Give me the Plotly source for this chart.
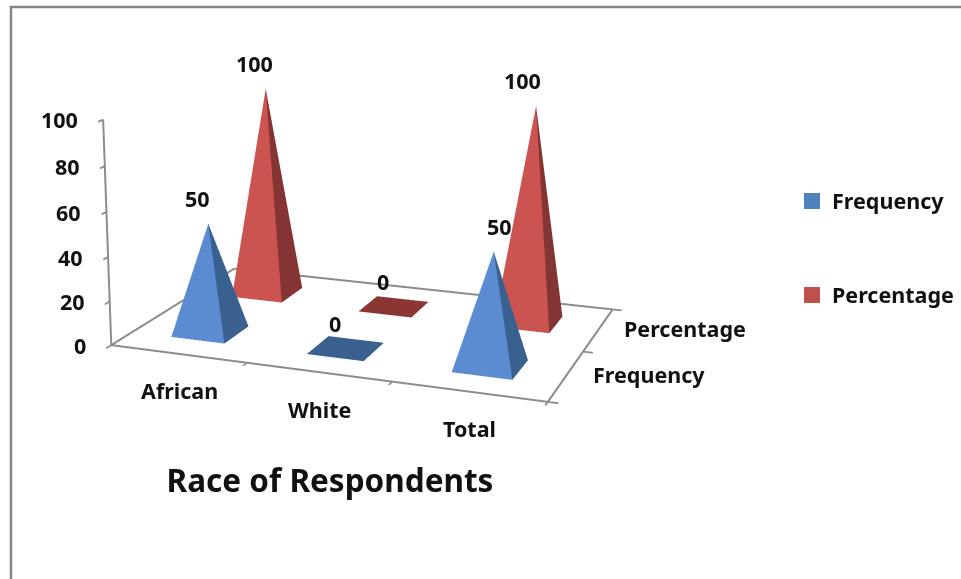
import plotly.graph_objects as go

categories = ["African", "White", "Total"]
series_names = ["Frequency", "Percentage"]
frequency = [50, 0, 50]
percentage = [100, 0, 100]
z_ticks = [0, 20, 40, 60, 80, 100]
legend_colors = ["#4F81BD", "#C0504D"]
front_colors = ["#5B8BD0", "#CB5350"]
side_colors = ["#3A6090", "#843432"]
flat_colors = ["#3A6090", "#8C3634"]
half = 0.2
FONT = "Noto Sans"
TEXT = "#111111"
AXIS = "#8C8C8C"

# The reference has a long lens with its principal point off-centre, so the
# figure is larger than the window and the page is offset to put that point
# where it belongs.
FIG_W, FIG_H = 1296, 1314
OFF_X, OFF_Y = 331, 401
def px(x): return (x + OFF_X) / FIG_W
def py(y): return 1 - (y + OFF_Y) / FIG_H


def pyramid_mesh(values, s_idx):
    xs, ys, zs, i, j, k, fc = [], [], [], [], [], [], []
    sc = s_idx + 0.5
    for c_idx, v in enumerate(values):
        cc = c_idx + 0.5
        n = len(xs)
        xs += [cc-half, cc+half, cc+half, cc-half, cc]
        ys += [sc-half, sc-half, sc+half, sc+half, sc]
        zs += [0, 0, 0, 0, v]
        faces = [(0,1,4,front_colors[s_idx]), (1,2,4,side_colors[s_idx]),
                 (2,3,4,side_colors[s_idx]), (3,0,4,front_colors[s_idx])]
        for a,b,cv,col in faces:
            i.append(n+a); j.append(n+b); k.append(n+cv)
            fc.append(col if v else flat_colors[s_idx])
    return go.Mesh3d(x=xs,y=ys,z=zs,i=i,j=j,k=k,facecolor=fc,flatshading=True,
        lighting=dict(ambient=1,diffuse=0,specular=0,fresnel=0,roughness=1),
        name=series_names[s_idx],showlegend=False,hoverinfo="skip",showscale=False)

nx, ny = len(categories), len(series_names)
fig = go.Figure()
fig.add_trace(pyramid_mesh(frequency,0))
fig.add_trace(pyramid_mesh(percentage,1))
fig.add_trace(go.Scatter3d(x=[0,nx,nx,0,0],y=[0,0,ny,ny,0],z=[0,0,0,0,0],mode="lines",
    line=dict(color=AXIS,width=4),showlegend=False,hoverinfo="skip"))
for s_idx,nm in enumerate(series_names):
    fig.add_trace(go.Scatter3d(x=[None],y=[None],z=[None],mode="markers",name=nm,legendgroup=nm,
        marker=dict(symbol="square",size=16,color=legend_colors[s_idx]),hoverinfo="skip"))

ann=[]
label_dx = {(0,2): 6, (1,2): -14}
def A(x,y,z,t,xs=0,ys=0,anchor="center",size=21.5):
    ann.append(dict(x=x,y=y,z=z,text=t,showarrow=False,xshift=xs,yshift=ys,xanchor=anchor,
        font=dict(family=FONT,size=size,color=TEXT,weight=700)))
for s_idx,vals in enumerate([frequency,percentage]):
    for c_idx,v in enumerate(vals):
        A(c_idx+.5,s_idx+.5,v,str(v),label_dx.get((s_idx,c_idx),-11),25)
for c_idx,t in enumerate(categories):
    A(c_idx+.5,0,0,t,1,-37)
for s_idx,t in enumerate(series_names):
    A(nx,s_idx+.5,0,t,[83,87][s_idx],1)
for z in z_ticks:
    A(0,0,z,str(z),-23,0,"right")

ax_common=dict(showbackground=False,showgrid=False,zeroline=False,showspikes=False,
    showticklabels=False,showline=True,linecolor=AXIS,linewidth=4,ticks="outside",
    tickcolor=AXIS,tickwidth=4,ticklen=8,title=dict(text=""))
fig.update_layout(
    width=FIG_W,height=FIG_H,margin=dict(l=0,r=0,t=0,b=0),paper_bgcolor="white",showlegend=True,
    font=dict(family=FONT),
    title=dict(text="Race of Respondents",x=px(330),y=py(481),xanchor="center",yanchor="middle",
        font=dict(family=FONT,size=31.5,color=TEXT,weight=700)),
    legend=dict(x=px(792),y=py(180.5),xanchor="left",yanchor="top",tracegroupgap=63,
        font=dict(family=FONT,size=21.5,color=TEXT,weight=700),bgcolor="rgba(0,0,0,0)"),
    scene=dict(domain=dict(x=[0,1],y=[0,1]),
        xaxis=dict(ax_common,range=[0,nx],tickvals=list(range(nx+1))),
        yaxis=dict(ax_common,range=[0,ny],tickvals=list(range(ny+1))),
        zaxis=dict(ax_common,range=[0,100],tickvals=z_ticks),
        aspectmode="manual",aspectratio=dict(x=1,y=0.678,z=0.514),
        camera=dict(eye=dict(x=1.158,y=-3.333,z=0.882),center=dict(x=-0.109,y=-0.066,z=-0.080),
            up=dict(x=0.004,y=0.002,z=1),projection=dict(type="perspective")),
        annotations=ann),
    shapes=[dict(type="rect",xref="paper",yref="paper",x0=px(11),x1=px(1000),y0=py(620),y1=py(7),
        line=dict(color="#868686",width=2.5))],
)
fig.write_html("out.html",config={"displayModeBar":False},
    post_script=f"document.body.style.margin='-{OFF_Y}px 0 0 -{OFF_X}px';document.documentElement.style.overflow='hidden';")
